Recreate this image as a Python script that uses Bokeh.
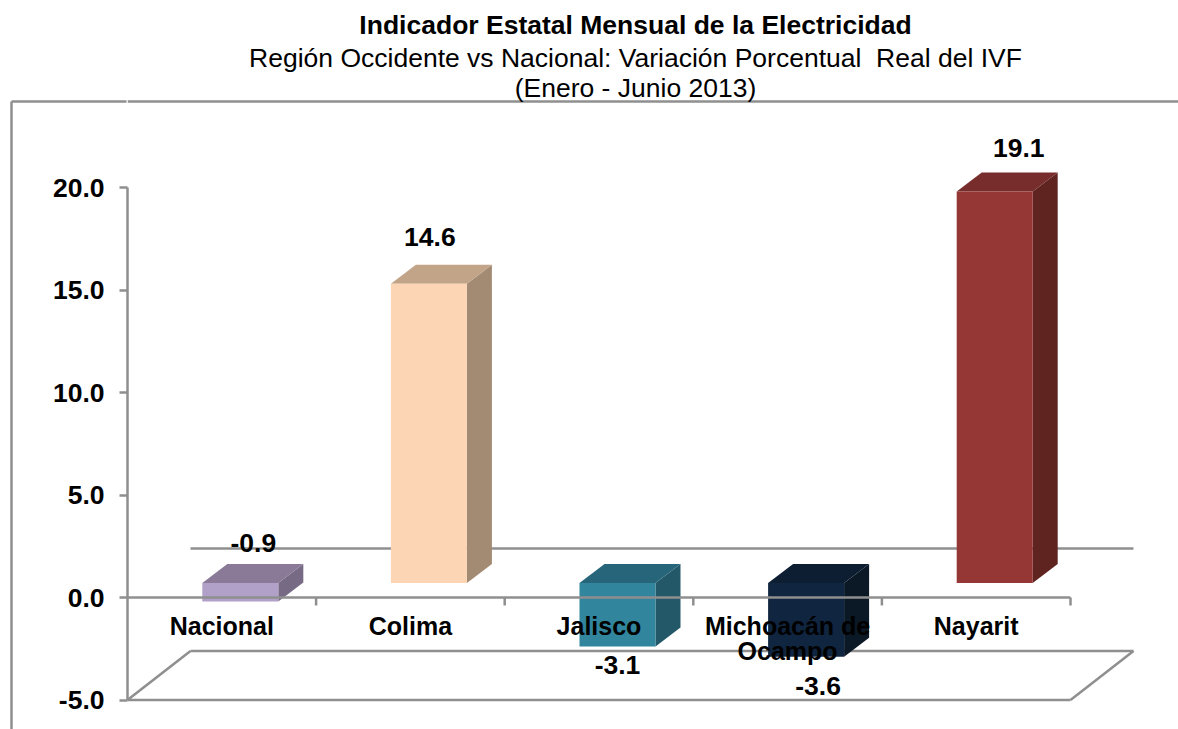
from bokeh.plotting import figure
from bokeh.embed import file_html
from bokeh.resources import INLINE
from bokeh.models import ColumnDataSource, Range1d, LinearAxis, FixedTicker, Label
from bokeh.core.properties import value

# ---- data ----
categories = ["Nacional", "Colima", "Jalisco", "Michoacán de\nOcampo", "Nayarit"]
values = [-0.9, 14.6, -3.1, -3.6, 19.1]
value_labels = ["-0.9", "14.6", "-3.1", "-3.6", "19.1"]
y_ticks = [-5, 0, 5, 10, 15, 20]
y_tick_labels = {-5: "-5.0", 0: "0.0", 5: "5.0", 10: "10.0", 15: "15.0", 20: "20.0"}
title_lines = ["Indicador Estatal Mensual de la Electricidad",
               "Región Occidente vs Nacional: Variación Porcentual \u00a0Real del IVF",
               "(Enero - Junio 2013)"]

# ---- style ----
front_colors = ["#b1a0c7", "#fcd5b5", "#31859c", "#10253f", "#953735"]
top_colors = ["#8a7a98", "#c2a488", "#27667a", "#0d1e33", "#762d2b"]
side_colors = ["#776a85", "#a38a72", "#225868", "#0b1825", "#5f2320"]
GREY = "#8f8f8f"
LW = 2.5
FONT = "Liberation Sans"

W, H = 1178, 729
LEFT = 127                # frame starts at the value axis
PX_X = 188.6              # pixels per category
PX_Y = 20.5               # pixels per value unit
ZERO_Y = 597              # zero line inside the figure
BORDER_X = 12             # outer picture border, left side
BORDER_Y = 101            # outer picture border, top side
SPACER = 38

x_max = (W - LEFT) / PX_X
y_max = ZERO_Y / PX_Y
y_min = -(H - ZERO_Y) / PX_Y
border_top = (ZERO_Y - BORDER_Y) / PX_Y

p = figure(width=W, height=H, output_backend="svg", toolbar_location=None,
           x_range=Range1d(0, x_max), y_range=Range1d(y_min, y_max),
           x_axis_type=None, y_axis_type=None,
           min_border_left=LEFT, min_border_right=0, min_border_top=0, min_border_bottom=0,
           outline_line_color=None, background_fill_color=None, border_fill_color=None)
p.grid.visible = False

yaxis = LinearAxis(ticker=FixedTicker(ticks=y_ticks), major_label_overrides=y_tick_labels,
                   bounds=(-5, 20), axis_line_color=GREY, axis_line_width=LW,
                   major_tick_line_color=GREY, major_tick_line_width=LW,
                   major_tick_out=8, major_tick_in=0, minor_tick_out=0, minor_tick_in=0,
                   major_label_standoff=15,
                   major_label_text_font=FONT, major_label_text_font_style="bold",
                   major_label_text_font_size="26.5px", major_label_text_color="#000000")
p.add_layout(yaxis, "left")

# empty axis that only pushes the picture border outwards
spacer = LinearAxis(ticker=FixedTicker(ticks=[0]), major_label_overrides={0: ""}, axis_line_color=None,
                    major_tick_line_color=GREY, major_tick_line_alpha=0, major_tick_out=SPACER,
                    major_tick_in=0, minor_tick_out=0, minor_tick_in=0, major_label_standoff=0,
                    major_label_text_font_size="0px")
p.add_layout(spacer, "left")

# picture border: left side is the axis line, top-left stretch is its single tick
border = LinearAxis(ticker=FixedTicker(ticks=[border_top]), bounds=(y_min, border_top),
                    major_label_overrides={border_top: ""},
                    axis_line_color=GREY, axis_line_width=LW,
                    major_tick_line_color=GREY, major_tick_line_width=LW,
                    major_tick_out=0, major_tick_in=LEFT - BORDER_X,
                    minor_tick_out=0, minor_tick_in=0, major_label_standoff=0,
                    major_label_text_font_size="0px")
p.add_layout(border, "left")

# 3-D box geometry (in data units, from the projection of the chart)
wall_dx, wall_dy = 63 / PX_X, 49 / PX_Y
bar_shift_x, bar_base = 18.5 / PX_X, 14.5 / PX_Y
bar_half = 38 / PX_X
depth_x, depth_y = 25 / PX_X, 19 / PX_Y
n = len(categories)

# top side of the picture border
p.segment(x0=[0], y0=[border_top], x1=[x_max], y1=[border_top], line_color=GREY, line_width=LW)

# back wall and floor
p.segment(x0=[wall_dx, wall_dx, 0, n, 0], y0=[wall_dy, -5 + wall_dy, -5, -5, -5],
          x1=[n + wall_dx, n + wall_dx, wall_dx, n + wall_dx, n],
          y1=[wall_dy, -5 + wall_dy, -5 + wall_dy, -5 + wall_dy, -5],
          line_color=GREY, line_width=LW)

# bars
for i, v in enumerate(values):
    c = i + 0.5 + bar_shift_x
    l, r = c - bar_half, c + bar_half
    b0, b1 = bar_base, bar_base + v
    hi = max(b0, b1)
    lo = min(b0, b1)
    p.patch([r, r + depth_x, r + depth_x, r], [lo, lo + depth_y, hi + depth_y, hi],
            fill_color=side_colors[i], line_color=None)
    p.patch([l, r, r + depth_x, l + depth_x], [hi, hi, hi + depth_y, hi + depth_y],
            fill_color=top_colors[i], line_color=None)
    p.quad(left=[l], right=[r], bottom=[lo], top=[hi], fill_color=front_colors[i], line_color=None)

# category axis on the zero line
p.segment(x0=[0], y0=[0], x1=[n], y1=[0], line_color=GREY, line_width=LW)
tick_x = list(range(1, n + 1))
p.segment(x0=tick_x, y0=[0] * n, x1=tick_x, y1=[-8 / PX_Y] * n, line_color=GREY, line_width=LW)

cat_src = ColumnDataSource(dict(x=[i + 0.5 for i in range(n)], y=[0] * n, t=categories))
p.text(x="x", y="y", text="t", source=cat_src, y_offset=14, text_align="center", text_baseline="top",
       text_font=value(FONT), text_font_style="bold", text_font_size="25px",
       text_color="#000000", text_line_height=0.92)

# value labels
label_dx = [13, 1, 0, 12, 24]
label_dy = [-58, -47, 18, 29, -43.5]
lab_src = ColumnDataSource(dict(x=[i + 0.5 + bar_shift_x for i in range(n)],
                                y=[bar_base + v for v in values],
                                t=value_labels, dx=label_dx, dy=label_dy))
p.text(x="x", y="y", text="t", source=lab_src, x_offset="dx", y_offset="dy",
       text_align="center", text_baseline="middle",
       text_font=value(FONT), text_font_style="bold", text_font_size="26.5px", text_color="#000000")

# title block
for line, y, style in zip(title_lines, [24, 57, 87], ["bold", "normal", "normal"]):
    p.add_layout(Label(x=635, y=y, x_units="canvas", y_units="canvas", text=line,
                       text_align="center", text_baseline="middle", text_font=FONT,
                       text_font_style=style, text_font_size="26.5px", text_color="#000000"))

open("out.html", "w").write(file_html(p, INLINE))
